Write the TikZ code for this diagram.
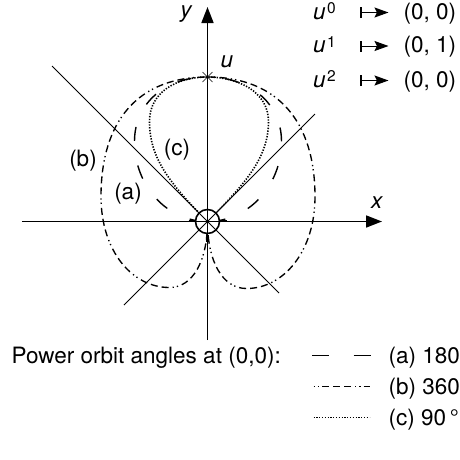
\documentclass[tikz,border=0pt]{standalone}
\usepackage{fontspec}
\setmainfont{TeX Gyre Heros}
\usetikzlibrary{arrows.meta}
\begin{document}
\begin{tikzpicture}[x=1pt,y=1pt,
  lbl/.style={font=\fontsize{22.5}{27}\selectfont, inner sep=0pt},
  axisline/.style={line width=1.7pt, -{Triangle[length=16pt,width=12pt]}},
  diag/.style={line width=0.75pt},
  curvea/.style={line width=1.4pt, dash pattern=on 14pt off 25pt, dash phase=35pt},
  curveb/.style={line width=1.35pt, dash pattern=on 7pt off 4pt on 7pt off 4pt on 7pt off 4pt on 1.3pt off 3pt on 1.3pt off 4pt},
  curvec/.style={line width=1.6pt, dash pattern=on 1.3pt off 1.5pt},
  maparrow/.style={line width=1pt, {Bar[width=11pt,line width=1.7pt]}-{Stealth[length=14pt,width=10pt,inset=2.5pt]}}
]
\useasboundingbox (-207.5,-237.5) rectangle (252.5,221.5);
\coordinate (O) at (0,0);
\coordinate (U) at (0,144.5);
% curve (a)
\draw[curvea] (O) .. controls (-40,0) and (-73,35) .. (-73,80)
  .. controls (-73,120) and (-40,144.5) .. (U);
\draw[curvea] (O) .. controls (40,0) and (74,35) .. (74,80)
  .. controls (74,120) and (40,144.5) .. (U);
% curve (b)
\draw[curveb] (O) .. controls (0,-40) and (-15,-66) .. (-38,-66)
  .. controls (-75,-66) and (-106.5,-30) .. (-106.5,25)
  .. controls (-106.5,100) and (-70,144.5) .. (U)
  .. controls (70,144.5) and (107.5,100) .. (107.5,25)
  .. controls (107.5,-30) and (76,-67) .. (39,-67)
  .. controls (15,-67) and (0,-40) .. (O);
% curve (c)
\draw[curvec] (O) .. controls (-40,40) and (-58,65) .. (-58,100)
  .. controls (-58,130) and (-30,144.5) .. (U)
  .. controls (30,144.5) and (61,130) .. (61,100)
  .. controls (61,65) and (40,40) .. (O);
\fill[white] (O) circle (12);
% axes and diagonals
\coordinate (xs) at (-185.5,0); \coordinate (xe) at (174.5,0);
\coordinate (ys) at (0,-118.5); \coordinate (ye) at (0,214.5);
\draw[axisline] (xs) -- (xe);
\draw[axisline] (ys) -- (ye);
\coordinate (d1a) at (-155.5,155.5); \coordinate (d1b) at (71.5,-71.5);
\coordinate (d2a) at (-83.5,-83.5); \coordinate (d2b) at (107.5,107.5);
\draw[diag] (d1a) -- (d1b);
\draw[diag] (d2a) -- (d2b);
\draw[line width=1.6pt] (O) circle (12);
\draw[line width=0.6pt] (-5,139.5) -- (5,149.5) (-5,149.5) -- (5,139.5);
% small end marks near the origin
\draw[line width=2.4pt] (-19,0.3) -- (-13,0.3) (13,0.3) -- (19,0.3) (0,-20) -- (0,-13);
% labels
\node[lbl] (ylab) at (-21,207.5) {\textit{y}};
\node[lbl] (xlab) at (169.5,18.5) {\textit{x}};
\node[lbl] (ulab) at (19.5,159.5) {\textit{u}};
\node[lbl] (blab) at (-124.5,60.5) {(b)};
\node[lbl] (alab) at (-79.5,27.5) {(a)};
\node[lbl] (clab) at (-30.5,71.5) {(c)};
% mapping rows
\foreach \i/\Y/\v in {0/202.5/{(0, 0)},1/169/{(0, 1)},2/134.5/{(0, 0)}}{
  \node[lbl, anchor=base west] (pw\i) at (105.5,\Y) {\textit{u}\kern1.5pt\raisebox{5.5pt}{\fontsize{15.5}{15.5}\selectfont\i}};
  \coordinate (ms\i) at (152.5,\Y+6.5);
  \coordinate (me\i) at (181,\Y+6.5);
  \draw[maparrow] (ms\i) -- (me\i);
  \node[lbl, anchor=base west] (val\i) at (196,\Y) {\v};
}
% bottom legend
\node[lbl, anchor=base west] (title) at (-196,-141.5) {Power orbit angles at (0,0):};
\node[lbl, anchor=base west] (la) at (181,-141.5) {(a) 180};
\node[lbl, anchor=base west] (lb) at (181,-172.5) {(b) 360};
\node[lbl, anchor=base west] (lc) at (181,-203.5) {(c) 90\,°};
\coordinate (las) at (104.5,-134) ; \coordinate (lae) at (163,-134);
\coordinate (lbs) at (106,-165); \coordinate (lbe) at (162,-165);
\coordinate (lcs) at (106,-196); \coordinate (lce) at (162,-196);
\draw[line width=1.4pt, dash pattern=on 17pt off 24.5pt] (las) -- (lae);
\draw[line width=1.35pt, dash pattern=on 1.3pt off 3pt on 1.3pt off 3pt on 7pt off 4pt on 7pt off 4pt on 7pt off 4pt] (lbs) -- (lbe);
\draw[curvec] (lcs) -- (lce);
\end{tikzpicture}
\end{document}
